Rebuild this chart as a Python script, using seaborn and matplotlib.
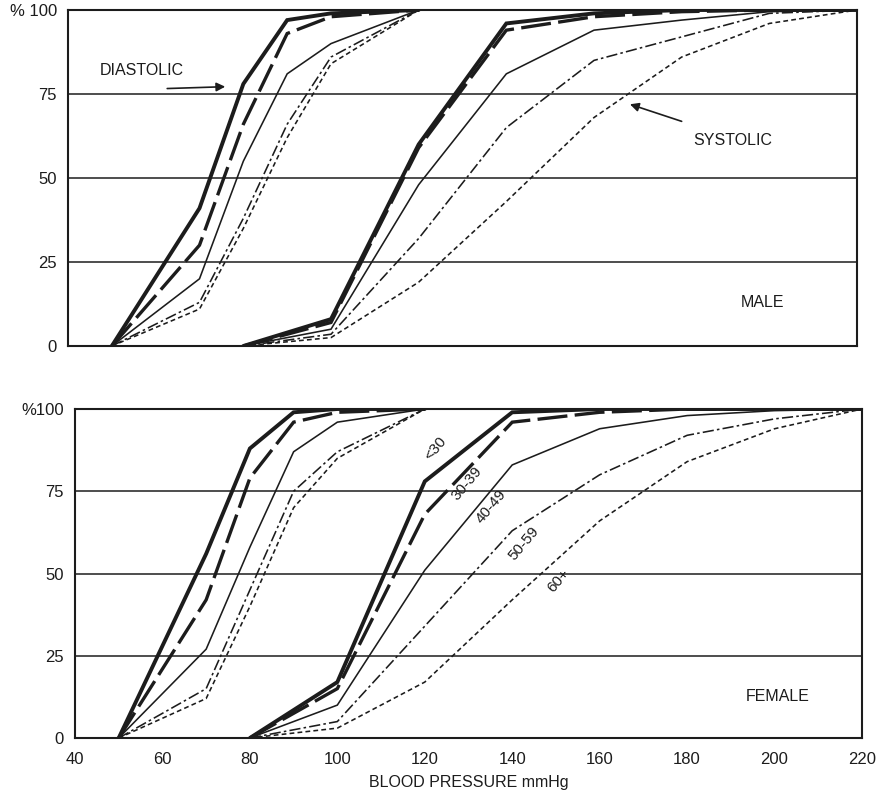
import matplotlib
matplotlib.use("Agg")
import matplotlib.pyplot as plt
import seaborn as sns
import pandas as pd

# Cumulative percentage of subjects at or below each blood pressure (mmHg)
age_groups = ["<30", "30-39", "40-49", "50-59", "60+"]

diastolic_bp = [50, 70, 80, 90, 100, 120]
systolic_bp = [80, 100, 120, 140, 160, 180, 200, 220]

male_diastolic = {
    "<30":   [0, 41, 78, 97, 99, 100],
    "30-39": [0, 30, 66, 93, 98, 100],
    "40-49": [0, 20, 55, 81, 90, 100],
    "50-59": [0, 13, 38, 66, 86, 100],
    "60+":   [0, 11, 35, 62, 84, 100],
}
male_systolic = {
    "<30":   [0, 8, 60, 96, 99, 100, 100, 100],
    "30-39": [0, 7, 59, 94, 98, 99.5, 100, 100],
    "40-49": [0, 5, 48, 81, 94, 97, 99.5, 100],
    "50-59": [0, 3.5, 32, 65, 85, 92, 99, 100],
    "60+":   [0, 2.5, 19, 43, 68, 86, 96, 100],
}
female_diastolic = {
    "<30":   [0, 56, 88, 99, 100, 100],
    "30-39": [0, 42, 79, 96, 99, 100],
    "40-49": [0, 27, 58, 87, 96, 100],
    "50-59": [0, 15, 45, 75, 87, 100],
    "60+":   [0, 12, 40, 70, 85, 100],
}
female_systolic = {
    "<30":   [0, 17, 78, 99, 100, 100, 100, 100],
    "30-39": [0, 15, 68, 96, 99, 100, 100, 100],
    "40-49": [0, 10, 51, 83, 94, 98, 99.5, 100],
    "50-59": [0, 5, 34, 63, 80, 92, 97, 100],
    "60+":   [0, 3, 17, 42, 66, 84, 94, 100],
}

x_ticks = [40, 60, 80, 100, 120, 140, 160, 180, 200, 220]
y_ticks = [0, 25, 50, 75, 100]
top_y_labels = ["0", "25", "50", "75", "% 100"]
bottom_y_labels = ["0", "25", "50", "75", "%100"]

# label text, x, y for the age group tags on the female systolic curves
age_label_pos = {
    "<30": (122.4, 88.0),
    "30-39": (129.7, 77.5),
    "40-49": (135.2, 70.5),
    "50-59": (142.6, 59.0),
    "60+": (150.6, 47.8),
}

ink = "#1c1c1c"
line_styles = {
    "<30":   dict(lw=2.8, linestyle="-"),
    "30-39": dict(lw=2.4, linestyle=(0, (9, 2.2))),
    "40-49": dict(lw=1.15, linestyle="-"),
    "50-59": dict(lw=1.15, linestyle=(0, (7, 2, 1.6, 2))),
    "60+":   dict(lw=1.15, linestyle=(0, (3, 2))),
}

sns.set_theme(style="white")
plt.rcParams["font.family"] = ["Liberation Sans", "DejaVu Sans"]

fig = plt.figure(figsize=(8.8, 7.94), dpi=100)
W, H = 880, 794
ax_top = fig.add_axes([68 / W, 1 - 346 / H, (857 - 68) / W, (346 - 10) / H])
ax_bot = fig.add_axes([75 / W, 1 - 738 / H, (862 - 75) / W, (738 - 409) / H])


def draw_curves(ax, bp, table):
    for grp in age_groups:
        df = pd.DataFrame({"bp": bp, "pct": table[grp]})
        sns.lineplot(data=df, x="bp", y="pct", ax=ax, color=ink,
                     errorbar=None, sort=True, solid_joinstyle="miter",
                     dash_joinstyle="miter", **line_styles[grp])


def style_axes(ax, ylabels, show_x):
    ax.set_xlim(40, 220)
    ax.set_ylim(0, 100)
    for v in (25, 50, 75):
        ax.axhline(v, color=ink, lw=1.1, zorder=0)
    for s in ax.spines.values():
        s.set_visible(True)
        s.set_color(ink)
        s.set_linewidth(1.5)
    ax.set_xticks(x_ticks)
    ax.set_yticks(y_ticks)
    ax.set_yticklabels(ylabels)
    ax.tick_params(axis="x", direction="in", length=6, width=1.2,
                   color=ink, labelsize=12, pad=10,
                   labelbottom=show_x, labelcolor=ink)
    ax.tick_params(axis="y", length=0, labelsize=12, pad=8, labelcolor=ink)
    ax.set_xlabel("")
    ax.set_ylabel("")


draw_curves(ax_top, diastolic_bp, male_diastolic)
draw_curves(ax_top, systolic_bp, male_systolic)
draw_curves(ax_bot, diastolic_bp, female_diastolic)
draw_curves(ax_bot, systolic_bp, female_systolic)

style_axes(ax_top, top_y_labels, False)
style_axes(ax_bot, bottom_y_labels, True)

ax_bot.set_xlabel("BLOOD PRESSURE mmHg", fontsize=11.5, color=ink, labelpad=6)

# male panel notes
ax_top.text(47.3, 82, "DIASTOLIC", fontsize=11.5, color=ink,
            ha="left", va="center")
ax_top.annotate("", xy=(76.5, 77.2), xytext=(62.0, 76.6),
                arrowprops=dict(arrowstyle="-|>", color=ink, lw=1.2,
                                mutation_scale=13))
ax_top.text(182.6, 61.3, "SYSTOLIC", fontsize=11.5, color=ink,
            ha="left", va="center")
ax_top.annotate("", xy=(167.6, 72.2), xytext=(180.6, 66.6),
                arrowprops=dict(arrowstyle="-|>", color=ink, lw=1.2,
                                mutation_scale=13))
ax_top.text(193.4, 13, "MALE", fontsize=11.5, color=ink,
            ha="left", va="center")

# female panel notes
ax_bot.text(193.3, 12.5, "FEMALE", fontsize=11.5, color=ink,
            ha="left", va="center")
for grp in age_groups:
    lx, ly = age_label_pos[grp]
    ax_bot.text(lx, ly, grp, fontsize=11, color=ink, rotation=50,
                ha="center", va="center", rotation_mode="anchor")

fig.savefig("out.png", dpi=100, facecolor="white")
